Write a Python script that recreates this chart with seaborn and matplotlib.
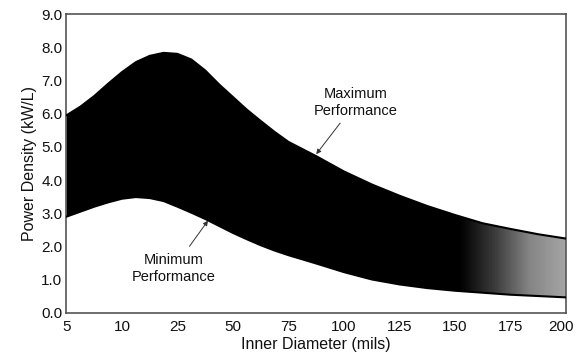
import numpy as np
import pandas as pd
import matplotlib
matplotlib.use("Agg")
import matplotlib.pyplot as plt
from matplotlib.colors import LinearSegmentedColormap
from matplotlib.transforms import ScaledTranslation
import seaborn as sns

# Tick labels of the inner-diameter axis (mils); ticks are evenly spaced
diameter_labels = ["5", "10", "25", "50", "75", "100", "125", "150", "175", "200"]

# Positions along the diameter axis (in tick units) where the envelope was sampled
axis_pos = [0.0, 0.25, 0.5, 0.75, 1.0, 1.25, 1.5, 1.75, 2.0, 2.25, 2.5, 2.75,
            3.0, 3.25, 3.5, 3.75, 4.0, 4.5, 5.0, 5.5, 6.0, 6.5, 7.0, 7.5,
            8.0, 8.5, 9.0]

# Power density envelope (kW/L)
max_perf = [5.95, 6.21, 6.53, 6.90, 7.25, 7.55, 7.74, 7.83, 7.80, 7.63, 7.30, 6.88,
            6.50, 6.12, 5.78, 5.45, 5.15, 4.72, 4.26, 3.87, 3.53, 3.22, 2.95, 2.70,
            2.53, 2.37, 2.24]
min_perf = [2.90, 3.05, 3.20, 3.33, 3.44, 3.49, 3.46, 3.37, 3.20, 3.02, 2.83, 2.62,
            2.41, 2.22, 2.04, 1.88, 1.74, 1.49, 1.23, 1.01, 0.86, 0.75, 0.67, 0.61,
            0.55, 0.51, 0.47]

df = pd.DataFrame({"pos": axis_pos, "max": max_perf, "min": min_perf})

sns.set_style("white")
plt.rcParams["font.family"] = ["Liberation Sans", "DejaVu Sans"]

fig = plt.figure(figsize=(5.77, 3.60), dpi=100)
ax = fig.add_axes([0.1152, 0.1306, 0.8657, 0.8305])

# Band between the two performance limits
band = ax.fill_between(df["pos"], df["min"], df["max"], color="black", lw=0)

# Shade fades from black to grey towards the large-diameter end
cmap = LinearSegmentedColormap.from_list(
    "fade", [(0.0, "#000000"), (0.79, "#000000"), (0.86, "#3c3c3c"),
             (0.93, "#858585"), (1.0, "#a4a4a4")])
grad = np.linspace(0, 1, 600).reshape(1, -1)
img = ax.imshow(grad, cmap=cmap, aspect="auto", extent=[0, 9, 0, 9],
                origin="lower", zorder=2, interpolation="bilinear")
img.set_clip_path(band.get_paths()[0], transform=ax.transData)
band.set_visible(False)

sns.lineplot(data=df, x="pos", y="max", ax=ax, color="black", lw=1.5, zorder=3)
sns.lineplot(data=df, x="pos", y="min", ax=ax, color="black", lw=1.5, zorder=3)

ax.set_xlim(0, 9)
ax.set_ylim(0, 9)
ax.set_xticks(range(len(diameter_labels)))
ax.set_xticklabels(diameter_labels)
yt = np.arange(0, 9.5, 1.0)
ax.set_yticks(yt)
ax.set_yticklabels([f"{v:.1f}" for v in yt])
ax.tick_params(direction="in", length=3, width=0.8, color="#333333",
               labelsize=11, pad=3, labelcolor="#111111")
ax.tick_params(axis="x", pad=5)

# Nudge the last x label inward so it stays inside the figure
last = ax.get_xticklabels()[-1]
last.set_transform(last.get_transform() + ScaledTranslation(-5 / 100, 0, fig.dpi_scale_trans))

for s in ax.spines.values():
    s.set_visible(True)
    s.set_color("#555555")
    s.set_linewidth(1.2)

ax.set_xlabel("Inner Diameter (mils)", fontsize=11.5, color="#111111", labelpad=2)
ax.set_ylabel("Power Density (kW/L)", fontsize=11.5, color="#111111", labelpad=3)

ax.annotate("Maximum\nPerformance", xy=(4.5, 4.78), xytext=(5.22, 5.88),
            ha="center", va="bottom", fontsize=10.5, color="#111111",
            linespacing=1.25,
            arrowprops=dict(arrowstyle="-|>", color="#333333", lw=0.7,
                            mutation_scale=7, shrinkA=2, shrinkB=0))
ax.annotate("Minimum\nPerformance", xy=(2.55, 2.78), xytext=(1.93, 0.88),
            ha="center", va="bottom", fontsize=10.5, color="#111111",
            linespacing=1.25,
            arrowprops=dict(arrowstyle="-|>", color="#333333", lw=0.7,
                            mutation_scale=7, shrinkA=3, shrinkB=0))

fig.savefig("out.png", dpi=100)
